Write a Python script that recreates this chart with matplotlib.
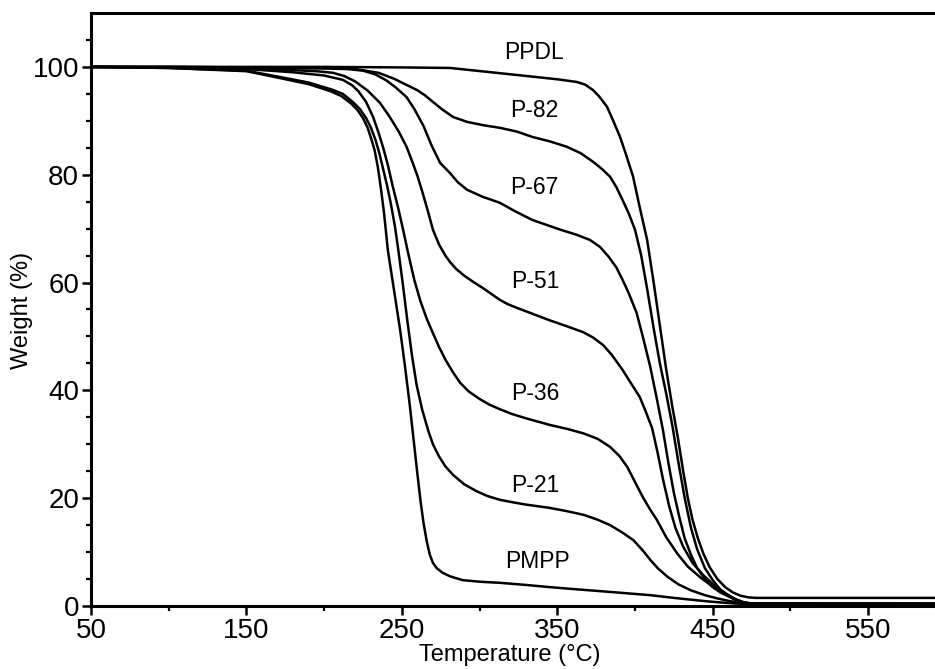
import matplotlib
matplotlib.use("Agg")
import matplotlib.pyplot as plt

plt.rcParams['font.family'] = ['Liberation Sans', 'DejaVu Sans']

# TGA curves (temperature in degC, weight in %)
ppdl_t = [50, 100, 150, 200, 250, 281, 324, 350, 362.7, 368, 373, 377, 382, 386, 390.4, 394.5,
          398.8, 403, 407.8, 412, 416, 420, 424, 427.7, 431, 434, 437, 440.5, 444, 448, 453,
          458, 463, 468, 473, 478, 593]
ppdl_w = [100, 100, 100, 100, 99.9, 99.8, 98.5, 97.7, 97.2, 96.7, 95.7, 94.5, 92.6, 90, 87, 83.5,
          79.6, 74, 67.9, 60, 52, 44, 37, 31, 25, 20, 16, 12.5, 9.7, 7.2, 5,
          3.5, 2.5, 1.9, 1.6, 1.5, 1.5]

p82_t = [50, 100, 150, 200, 220, 235, 245, 252, 259.8, 265, 270, 276, 283, 292, 302, 313, 324,
         334, 345, 356, 365, 373, 379, 384, 388, 392, 396, 400, 404, 408, 412, 416, 420, 424,
         428, 432, 436, 440, 445, 450, 455, 460, 465, 470, 475, 593]
p82_w = [100, 100, 99.9, 99.8, 99.6, 98.9, 97.8, 96.8, 95.7, 94.7, 93.5, 92.1, 90.7, 89.8, 89.2, 88.7, 88,
         87, 86.2, 85.2, 84, 82.4, 81, 79.6, 77.7, 75.3, 72.8, 69.8, 65, 58.5, 51.5, 45, 39.5, 33.5,
         26.5, 20, 14.5, 10.5, 7, 4.8, 3, 1.9, 1.2, 0.7, 0.45, 0.4]

p67_t = [50, 100, 150, 200, 215, 225, 233, 240, 246, 253, 258, 264, 269, 274.6, 281, 286, 292,
         302, 313, 323, 334, 343, 352, 362, 371, 377.5, 383, 388, 392, 396, 401, 405, 409.7, 414,
         418, 421.5, 425, 428.5, 432, 436, 440, 445, 450, 455, 460, 465, 470, 475, 593]
p67_w = [100, 100, 99.9, 99.7, 99.6, 99.3, 98.6, 97.5, 96.2, 94.4, 92.2, 89, 85.5, 82.2, 80.3, 78.6, 77.2,
         75.9, 74.8, 73.2, 71.6, 70.7, 69.8, 68.9, 67.9, 66.6, 64.8, 62.8, 60.5, 58, 54.4, 50, 44.5, 38.5,
         32.6, 26.5, 21, 16.5, 12.5, 9.5, 7, 5, 3.5, 2.5, 1.8, 1.1, 0.6, 0.45, 0.4]

p51_t = [50, 100, 150, 180, 195, 205.7, 213, 220, 228, 236, 242, 248, 253, 257, 260, 263, 266.5,
         270, 274, 278, 281, 285, 290, 296, 302, 308, 313, 318, 324, 335, 345, 356, 366.6, 373,
         379.5, 385, 392, 397, 403, 407, 411, 414.5, 418, 422, 426, 431, 437, 444, 451, 459,
         465, 470, 475, 593]
p51_w = [100, 99.9, 99.7, 99.4, 99.2, 98.9, 98.3, 97.3, 95.6, 93.3, 90.8, 88, 85.2, 82.2, 79.8, 77, 73.5,
         69.8, 67, 65, 63.8, 62.5, 61.3, 60.1, 59, 57.8, 56.8, 56, 55.3, 54.1, 53, 51.9, 50.8, 49.8,
         48.4, 46.6, 43.8, 41.5, 38.8, 36, 33, 28.5, 23.5, 18.5, 14.5, 11, 8, 5.7, 3.8, 2.2,
         1.1, 0.6, 0.45, 0.4]

p36_t = [50, 100, 150, 180, 200, 212, 218, 222, 227, 231.5, 235, 238, 241, 244, 247.5, 250.8, 254,
         258, 262, 266, 270, 274, 278, 283, 287.5, 293, 300, 306, 313, 321, 330, 345, 357, 367,
         376, 384, 390, 395, 400, 405, 409.5, 414, 420, 427, 434, 442, 450, 459, 465, 470, 475, 593]
p36_w = [100, 99.9, 99.6, 99, 98.4, 97.6, 96.6, 95.5, 93.5, 90.7, 87.8, 85, 81.8, 78, 74, 69.8, 65.5,
         60.5, 56.5, 53.3, 50.6, 48, 45.7, 43.3, 41.4, 39.8, 38.4, 37.4, 36.5, 35.6, 34.8, 33.6, 32.8, 32,
         31, 29.5, 27.8, 25.8, 23, 20.2, 18, 16, 12.8, 9.8, 7.3, 5.3, 3.6, 2.2, 1.2, 0.6, 0.45, 0.4]

p21_t = [50, 100, 150, 172, 190, 205, 212, 218, 223, 227, 230, 233, 235.5, 238, 240.5, 243, 245.5,
         247.5, 250.5, 253.5, 256.5, 259.5, 263, 267, 270, 274, 278, 283, 290, 298, 305, 313, 322,
         330, 345, 356, 367, 376, 384, 392, 399, 405, 410, 415, 421, 428, 436, 445, 453, 461,
         468, 475, 593]
p21_w = [100, 99.8, 99.3, 98.1, 97.1, 95.8, 95, 93.6, 92.2, 90.5, 88.8, 86.5, 84, 81, 78, 74.5, 70.5,
         66.5, 60, 53, 46.5, 41, 36.5, 32.5, 30, 27.7, 25.9, 24.3, 22.6, 21.3, 20.4, 19.7, 19.2,
         18.8, 18.2, 17.6, 16.9, 16, 15, 13.6, 12.2, 10.3, 8.5, 6.9, 5.4, 4, 2.9, 2, 1.4, 0.9,
         0.6, 0.45, 0.4]

pmpp_t = [50, 100, 150, 172, 190, 204, 211, 217, 221.5, 225, 228, 230.5, 232.5, 234.5, 236.5, 238.5,
          241, 245, 249, 252, 255, 257.5, 260, 262, 264, 266, 268, 270, 272.5, 276, 281, 289, 300,
          313, 330, 345, 362, 380, 395, 410, 425, 435, 445, 453, 465, 480, 593]
pmpp_w = [100, 99.8, 99.2, 97.9, 96.8, 95.5, 94.6, 93.3, 92, 90.5, 88.7, 86.5, 84.5, 81.5, 77.5, 73,
          66, 58.5, 51, 44.5, 37.5, 31, 24.5, 19.5, 15.3, 12, 9.5, 8, 7, 6.2, 5.5, 4.8, 4.5,
          4.3, 3.9, 3.5, 3.1, 2.7, 2.35, 2.0, 1.5, 1.2, 0.9, 0.7, 0.45, 0.3, 0.3]

curves = [(ppdl_t, ppdl_w), (p82_t, p82_w), (p67_t, p67_w), (p51_t, p51_w),
          (p36_t, p36_w), (p21_t, p21_w), (pmpp_t, pmpp_w)]

label_names = ['PPDL', 'P-82', 'P-67', 'P-51', 'P-36', 'P-21', 'PMPP']
label_t = [335, 335, 335, 336, 336, 336, 337]
label_w = [102.6, 92, 77.7, 60.1, 39.5, 22.4, 8.2]

x_major = [50, 150, 250, 350, 450, 550]
x_minor = [100, 200, 300, 400, 500]
y_major = [0, 20, 40, 60, 80, 100]
y_minor = [5, 10, 15, 25, 30, 35, 45, 50, 55, 65, 70, 75, 85, 90, 95, 105]

fig = plt.figure(figsize=(9.35, 6.69), dpi=100)
ax = fig.add_axes([0.0973, 0.0942, 0.9027, 0.8864])

for t, w in curves:
    ax.plot(t, w, color='black', lw=1.8, solid_joinstyle='round')

for name, t, w in zip(label_names, label_t, label_w):
    ax.text(t, w, name, fontsize=16.5, ha='center', va='center')

ax.set_xlim(50, 593)
ax.set_ylim(0, 110)
ax.set_xticks(x_major)
ax.set_xticks(x_minor, minor=True)
ax.set_yticks(y_major)
ax.set_yticks(y_minor, minor=True)

ax.spines['right'].set_visible(False)
for s in ['left', 'bottom', 'top']:
    ax.spines[s].set_linewidth(2.2)

ax.tick_params(which='major', direction='out', length=6.5, width=1.8,
               labelsize=20, pad=2)
ax.tick_params(which='minor', direction='out', length=3.5, width=1.6)
ax.tick_params(axis='x', which='both', top=False)

ax.set_xlabel('Temperature (\u00b0C)', fontsize=17)
ax.set_ylabel('Weight (%)', fontsize=17)
ax.xaxis.set_label_coords(0.496, -0.0826)
ax.xaxis.label.set_va('center')
ax.yaxis.set_label_coords(-0.0818, 0.499)
ax.yaxis.label.set_va('center')

fig.savefig('out.png', dpi=100)
